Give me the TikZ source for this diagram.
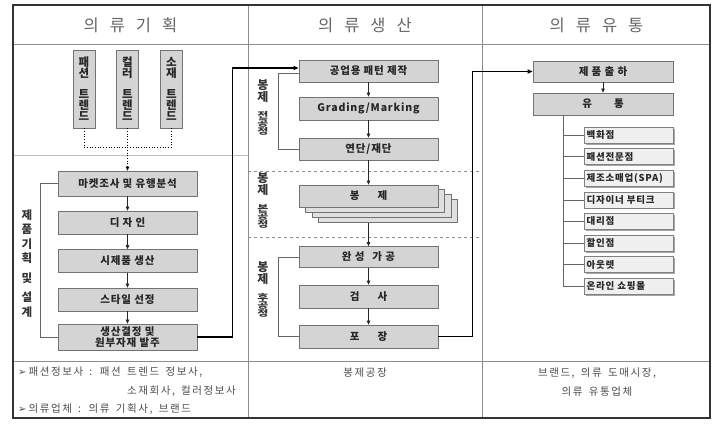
\documentclass[tikz,border=0pt]{standalone}
\usepackage{fontspec}
\setmainfont{Noto Sans CJK KR}
\newfontfamily\krs[LetterSpace=8]{Noto Sans CJK KR}
\newfontfamily\krw[LetterSpace=15,WordSpace=1.6]{Noto Sans CJK KR}
\newfontfamily\sym{DejaVu Sans}
\usetikzlibrary{arrows.meta,shadows}
\begin{document}
\begin{tikzpicture}[x=1pt,y=-1pt,
  box/.style={draw=black!55, fill=black!17, line width=0.7pt, minimum width=139pt, minimum height=23pt, inner sep=1pt, align=center, font=\krs\fontsize{10.5}{12}\selectfont\bfseries, text=black!85},
  tbox/.style={draw=black!55, fill=black!17, line width=0.7pt, minimum width=22pt, minimum height=78pt, inner sep=0pt, align=center, font=\fontsize{11.5}{11}\selectfont\bfseries, text=black!85},
  sbox/.style={draw=black!50, fill=black!6, line width=0.6pt, minimum width=89pt, minimum height=16pt, inner sep=0pt, text width=84pt, align=left, font=\krs\fontsize{9.5}{11}\selectfont\bfseries, text=black!85, drop shadow={shadow xshift=1.5pt, shadow yshift=-1.5pt, fill=black!35, opacity=1}},
  lab/.style={align=center, font=\fontsize{12}{12}\selectfont\bfseries, text=black!80, inner sep=0pt},
  head/.style={font=\fontsize{16.5}{18}\selectfont, text=black!60},
  btxt/.style={font=\krw\fontsize{10.5}{11}\selectfont, text=black!70, inner sep=0pt},
  arr/.style={-{Triangle[length=4pt,width=3.5pt]}, line width=0.6pt, draw=black!85},
  link/.style={line width=1.4pt, -{Triangle[length=5pt,width=4pt]}},
  brk/.style={line width=0.6pt, draw=black!60},
  grid/.style={line width=0.5pt, draw=black!45}
]
\useasboundingbox (0,0) rectangle (722,426);
% frame and grid
\draw[grid] (13,44) -- (710,44);
\draw[grid] (13,361) -- (710,361);
\draw[grid] (248,5) -- (248,418);
\draw[grid] (482,5) -- (482,418);
\draw[line width=0.5pt, draw=black!25] (13,155) -- (248,155);
\draw[line width=0.6pt, draw=black!45, dashed] (248,171) -- (482,171);
\draw[line width=0.6pt, draw=black!45, dashed] (248,237) -- (482,237);
\draw[line width=1.6pt, draw=black!80] (13,5) rectangle (710,418);

% headers
\node[head] (h1) at (130.5,25) {의\hspace{11pt}류\hspace{11pt}기\hspace{11pt}획};
\node[head] (h2) at (365,25) {의\hspace{11pt}류\hspace{11pt}생\hspace{11pt}산};
\node[head] (h3) at (596.5,25) {의\hspace{11pt}류\hspace{11pt}유\hspace{11pt}통};

% left column
\node[tbox] (t1) at (84,89) {패\\션\\[10pt]트\\렌\\드};
\node[tbox] (t2) at (127.5,89) {컬\\러\\[10pt]트\\렌\\드};
\node[tbox] (t3) at (171.5,89) {소\\재\\[10pt]트\\렌\\드};
\node[box, minimum height=25pt] (m1) at (127.5,183.5) {마켓조사 및 유행분석};
\node[box] (m2) at (127.5,222.5) {디 자 인};
\node[box] (m3) at (127.5,261) {시제품 생산};
\node[box] (m4) at (127.5,299.5) {스타일 선정};
\node[box, minimum height=26pt, font=\krs\fontsize{10.5}{11.5}\selectfont\bfseries] (m5) at (127.5,337) {생산결정 및\\원부자재 발주};
\node[lab, font=\fontsize{11.5}{14.5}\selectfont\bfseries] (lL) at (27,263.5) {제\\품\\기\\획\\[5pt]및\\[5pt]설\\계};

\draw[dotted, line width=0.7pt] (t1.south) -- (t1.south |- 0,147) -- (t3.south |- 0,147) -- (t3.south);
\draw[dotted, line width=0.7pt, -{Triangle[length=4pt,width=3.5pt]}] (t2.south) -- (m1.north);
\draw[arr] (m1) -- (m2);
\draw[arr] (m2) -- (m3);
\draw[arr] (m3) -- (m4);
\draw[arr] (m4) -- (m5);
\draw[brk] (m1.west) -- ++(-17,0) |- (m5.west);

% middle column
\node[box, minimum height=22pt] (p1) at (368.5,71) {공업용 패턴 제작};
\node[box] (p2) at (368.5,108.5) {Grading/Marking};
\node[box, minimum height=22pt] (p3) at (368.5,149) {연단/재단};
\node[box, fill=black!12] (p4c) at (388,211) {};
\node[box, fill=black!12] (p4b) at (381.5,206) {};
\node[box, fill=black!12] (p4a) at (375,201) {};
\node[box, minimum height=22pt] (p4) at (368.5,196) {봉\hspace{18pt}제};
\node[box, minimum height=21pt] (p5) at (368.5,257) {완 성\hspace{8pt}가 공};
\node[box] (p6) at (368.5,296.5) {검\hspace{18pt}사};
\node[box] (p7) at (368.5,336.5) {포\hspace{18pt}장};
\node[lab] (lM1) at (263,107.5) {봉\\제\\[5pt]\scalebox{1}[0.7]{전}\\[-4pt]\scalebox{1}[0.7]{공}\\[-4pt]\scalebox{1}[0.7]{정}};
\node[lab] (lM2) at (263,201) {봉\\제\\[5pt]\scalebox{1}[0.7]{본}\\[-4pt]\scalebox{1}[0.7]{공}\\[-4pt]\scalebox{1}[0.7]{정}};
\node[lab] (lM3) at (263,290) {봉\\제\\[5pt]\scalebox{1}[0.7]{후}\\[-4pt]\scalebox{1}[0.7]{공}\\[-4pt]\scalebox{1}[0.7]{정}};
\draw[arr] (p1) -- (p2);
\draw[arr] (p2) -- (p3);
\draw[arr] (p3) -- (p4);
\draw[arr] (p4c.south -| p4.south) -- (p5);
\draw[arr] (p5) -- (p6);
\draw[arr] (p6) -- (p7);
\draw[brk] ([yshift=-2pt]p1.west) -- ++(-20,0) |- (p3.west);
\draw[brk] (p5.west) -- ++(-20,0) |- (p7.west);

% right column
\node[box, minimum width=140pt, minimum height=21pt] (r1) at (603,71.5) {제 품 출 하};
\node[box, minimum width=140pt, minimum height=22pt] (r2) at (603,104) {유\hspace{22pt}통};
\node[sbox] (s1) at (628.5,135) {백화점};
\node[sbox] (s2) at (628.5,156.6) {패션전문점};
\node[sbox] (s3) at (628.5,178.2) {제조소매업(SPA)};
\node[sbox] (s4) at (628.5,199.8) {디자이너 부티크};
\node[sbox] (s5) at (628.5,221.4) {대리점};
\node[sbox] (s6) at (628.5,243) {할인점};
\node[sbox] (s7) at (628.5,264.6) {아웃렛};
\node[sbox] (s8) at (628.5,286.2) {온라인 쇼핑몰};
\draw[arr] (r1) -- (r2);
\coordinate (tr) at (563,115);
\draw[brk] (tr) -- (tr |- s8.west) -- (s8.west);
\foreach \s in {s1,s2,s3,s4,s5,s6,s7} \draw[brk] (tr |- \s.west) -- (\s.west);

% thick links
\draw[link] (m5.east) -- ([xshift=35pt]m5.east) |- ([yshift=3pt]p1.west);
\draw[link] (p7.east) -- ([xshift=34pt]p7.east) |- (r1.west);

% bottom texts
\node[btxt, anchor=west] (b1) at (18,372) {{\sym\fontsize{10}{10}\selectfont ➢}\hspace{2pt}패션정보사 : 패션 트렌드 정보사,};
\node[btxt, anchor=east] (b2) at (236,391) {소재회사, 컬러정보사};
\node[btxt, anchor=west] (b3) at (18,409) {{\sym\fontsize{10}{10}\selectfont ➢}\hspace{2pt}의류업체 : 의류 기획사, 브랜드};
\node[btxt] (b4) at (365,373) {봉제공장};
\node[btxt] (b5) at (597,373) {브랜드, 의류 도매시장,};
\node[btxt] (b6) at (597,392) {의류 유통업체};
\end{tikzpicture}
\end{document}
